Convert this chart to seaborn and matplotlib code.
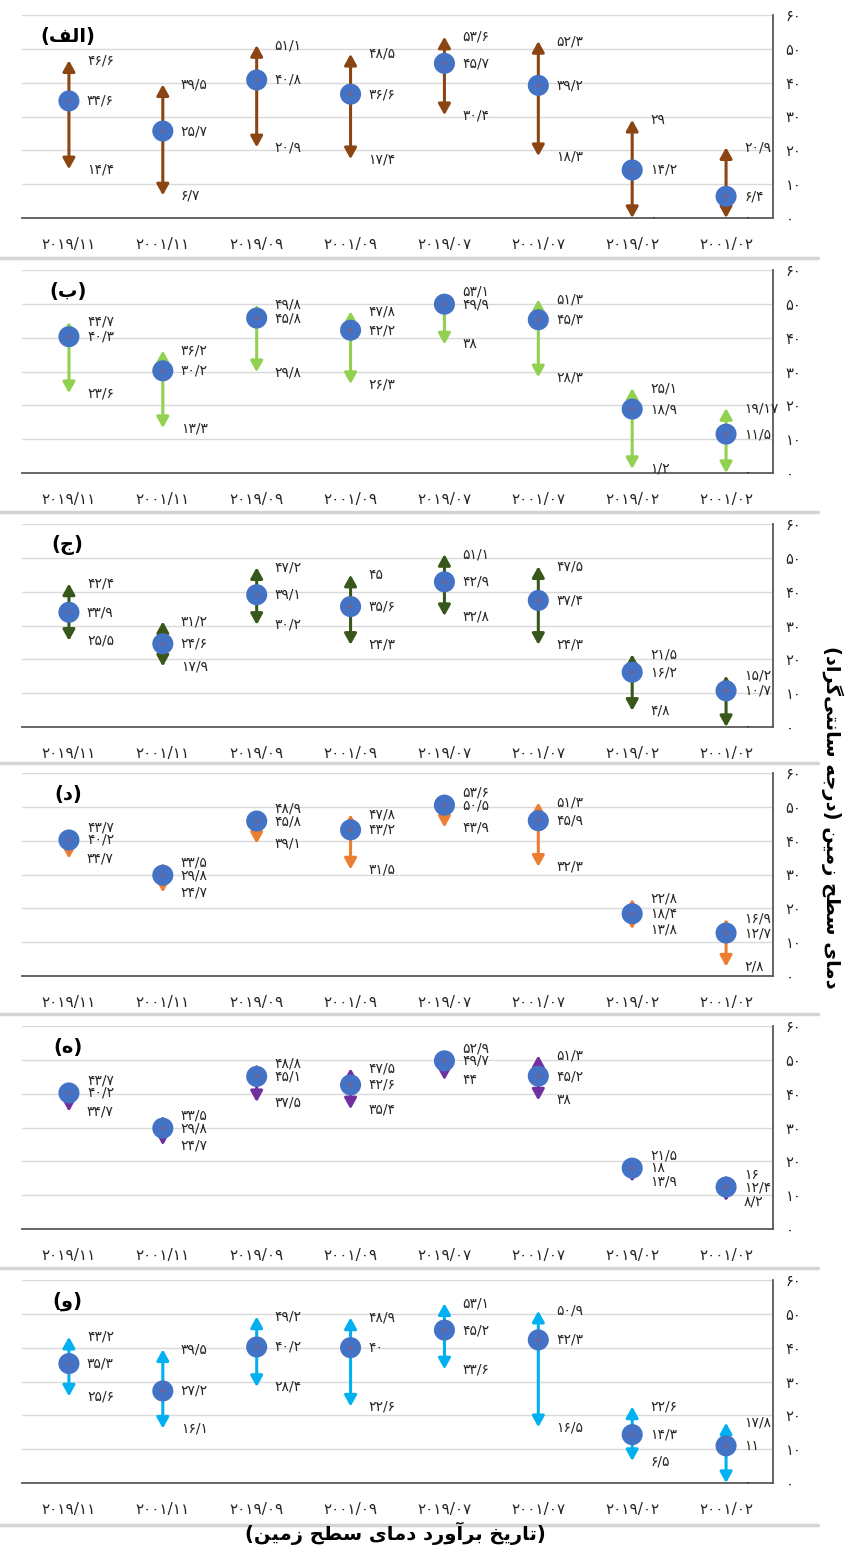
import numpy as np
import pandas as pd
import matplotlib
matplotlib.use("Agg")
import matplotlib.pyplot as plt
from matplotlib.lines import Line2D
import seaborn as sns

sns.set_style("white")
plt.rcParams['font.family'] = ['DejaVu Sans']

# تاریخ‌ها (از چپ به راست)
dates = ["2019/11", "2001/11", "2019/09", "2001/09", "2019/07", "2001/07", "2019/02", "2001/02"]
y_ticks = [0, 10, 20, 30, 40, 50, 60]

panel_names = ["الف", "ب", "ج", "د", "ه", "و"]
arrow_colors = ["#8B4513", "#92D050", "#38571A", "#ED7D31", "#7030A0", "#00B0F0"]

# (الف)
alef_max = [46.6, 39.5, 51.1, 48.5, 53.6, 52.3, 29, 20.9]
alef_mean = [34.6, 25.7, 40.8, 36.6, 45.7, 39.2, 14.2, 6.4]
alef_min = [14.4, 6.7, 20.9, 17.4, 30.4, 18.3, 0, 0]
# (ب)
be_max = [44.7, 36.2, 49.8, 47.8, 53.1, 51.3, 25.1, 19.17]
be_mean = [40.3, 30.2, 45.8, 42.2, 49.9, 45.3, 18.9, 11.5]
be_min = [23.6, 13.3, 29.8, 26.3, 38, 28.3, 1.2, 0]
# (ج)
jim_max = [42.4, 31.2, 47.2, 45, 51.1, 47.5, 21.5, 15.2]
jim_mean = [33.9, 24.6, 39.1, 35.6, 42.9, 37.4, 16.2, 10.7]
jim_min = [25.5, 17.9, 30.2, 24.3, 32.8, 24.3, 4.8, 0]
# (د)
dal_max = [43.7, 33.5, 48.9, 47.8, 53.6, 51.3, 22.8, 16.9]
dal_mean = [40.2, 29.8, 45.8, 43.2, 50.5, 45.9, 18.4, 12.7]
dal_min = [34.7, 24.7, 39.1, 31.5, 43.9, 32.3, 13.8, 2.8]
# (ه)
he_max = [43.7, 33.5, 48.8, 47.5, 52.9, 51.3, 21.5, 16]
he_mean = [40.2, 29.8, 45.1, 42.6, 49.7, 45.2, 18, 12.4]
he_min = [34.7, 24.7, 37.5, 35.4, 44, 38, 13.9, 8.2]
# (و)
vav_max = [43.2, 39.5, 49.2, 48.9, 53.1, 50.9, 22.6, 17.8]
vav_mean = [35.3, 27.2, 40.2, 40, 45.2, 42.3, 14.3, 11]
vav_min = [25.6, 16.1, 28.4, 22.6, 33.6, 16.5, 6.5, 0]

panels = [
    (alef_max, alef_mean, alef_min),
    (be_max, be_mean, be_min),
    (jim_max, jim_mean, jim_min),
    (dal_max, dal_mean, dal_min),
    (he_max, he_mean, he_min),
    (vav_max, vav_mean, vav_min),
]

# شکل‌های نمایشی حروف: جدا، پایانی، آغازی، میانی
FORMS = {
    'ا': ('\uFE8D', '\uFE8E', None, None),
    'آ': ('\uFE81', '\uFE82', None, None),
    'ب': ('\uFE8F', '\uFE90', '\uFE91', '\uFE92'),
    'ت': ('\uFE95', '\uFE96', '\uFE97', '\uFE98'),
    'ج': ('\uFE9D', '\uFE9E', '\uFE9F', '\uFEA0'),
    'ح': ('\uFEA1', '\uFEA2', '\uFEA3', '\uFEA4'),
    'خ': ('\uFEA5', '\uFEA6', '\uFEA7', '\uFEA8'),
    'د': ('\uFEA9', '\uFEAA', None, None),
    'ر': ('\uFEAD', '\uFEAE', None, None),
    'ز': ('\uFEAF', '\uFEB0', None, None),
    'س': ('\uFEB1', '\uFEB2', '\uFEB3', '\uFEB4'),
    'ط': ('\uFEC1', '\uFEC2', '\uFEC3', '\uFEC4'),
    'ف': ('\uFED1', '\uFED2', '\uFED3', '\uFED4'),
    'ل': ('\uFEDD', '\uFEDE', '\uFEDF', '\uFEE0'),
    'م': ('\uFEE1', '\uFEE2', '\uFEE3', '\uFEE4'),
    'ن': ('\uFEE5', '\uFEE6', '\uFEE7', '\uFEE8'),
    'ه': ('\uFEE9', '\uFEEA', '\uFEEB', '\uFEEC'),
    'و': ('\uFEED', '\uFEEE', None, None),
    'ی': ('\uFBFC', '\uFBFD', '\uFBFE', '\uFBFF'),
    'گ': ('\uFB92', '\uFB93', '\uFB94', '\uFB95'),
}


def rtl(s):
    """شکل‌دهی ساده و وارونه‌سازی متن فارسی برای matplotlib"""
    out = []
    for i, ch in enumerate(s):
        if ch not in FORMS:
            out.append(ch)
            continue
        iso, fin, ini, med = FORMS[ch]
        prev = s[i - 1] if i > 0 else ''
        nxt = s[i + 1] if i + 1 < len(s) else ''
        jp = prev in FORMS and FORMS[prev][2] is not None
        jn = ini is not None and nxt in FORMS
        out.append(med if (jp and jn) else fin if jp else ini if jn else iso)
    vis = ''.join(out).replace('\u200c', '')[::-1]
    return vis.translate(str.maketrans('()', ')('))


FA = str.maketrans('0123456789.', '۰۱۲۳۴۵۶۷۸۹/')


def fa(v):
    return f"{v:g}".translate(FA)


W, H = 849, 1555
fig = plt.figure(figsize=(W / 100, H / 100), dpi=100)
tops = [15, 270, 524, 773, 1026, 1280]
ax_h = 203
ax_l, ax_w = 22, 751
text_c = '#262626'
min_gap = 3.7  # کمترین فاصله‌ی برچسب‌ها (واحد محور)

for k, (mx, mean, mn) in enumerate(panels):
    ax = fig.add_axes([ax_l / W, 1 - (tops[k] + ax_h) / H, ax_w / W, ax_h / H])
    df = pd.DataFrame({'date': [d.translate(FA) for d in dates],
                       'max': mx, 'mean': mean, 'min': mn})
    col = arrow_colors[k]

    for i, r in df.iterrows():
        for target in (r['max'], r['min']):
            ax.annotate('', xy=(i, target), xytext=(i, r['mean']),
                        arrowprops=dict(arrowstyle='-|>,head_length=0.65,head_width=0.36',
                                        color=col, lw=2.2, shrinkA=0, shrinkB=0,
                                        mutation_scale=10),
                        zorder=3)

    sns.scatterplot(data=df, x='date', y='mean', s=230, color='#4472C4',
                    edgecolor='none', zorder=4, ax=ax, legend=False)
    sns.scatterplot(data=df, x='date', y='mean', s=5, color='#8a5a70',
                    edgecolor='none', zorder=5, ax=ax, legend=False)

    for i, r in df.iterrows():
        y_mean = r['mean']
        y_max = max(r['max'], y_mean + min_gap)
        y_min = min(r['min'], y_mean - min_gap)
        for v, yy in ((r['max'], y_max), (r['mean'], y_mean), (r['min'], y_min)):
            ax.annotate(fa(v), xy=(i, yy), xytext=(13, 0), textcoords='offset points',
                        ha='left', va='center', fontsize=10, color=text_c, zorder=6,
                        annotation_clip=False)

    ax.set_xlim(-0.5, 7.5)
    ax.set_ylim(0, 60)
    ax.set_yticks(y_ticks)
    ax.set_yticklabels([fa(t) for t in y_ticks], fontsize=10.5, color=text_c)
    ax.yaxis.tick_right()
    ax.tick_params(axis='y', length=0, pad=9)
    ax.tick_params(axis='x', length=0, pad=14, labelsize=11, labelcolor=text_c)
    ax.set_xlabel('')
    ax.set_ylabel('')
    ax.grid(axis='y', color='#d9d9d9', lw=1)
    ax.grid(axis='x', visible=False)
    ax.set_axisbelow(True)
    for side in ('top', 'left'):
        ax.spines[side].set_visible(False)
    for side in ('right', 'bottom'):
        ax.spines[side].set_color('#595959')
        ax.spines[side].set_linewidth(1.3)

    ax.text(0.061, 0.895, rtl('(' + panel_names[k] + ')'), transform=ax.transAxes,
            ha='center', va='center', fontsize=14, fontweight='bold', color='black')

# خطوط جداکننده بین قاب‌ها
for yp in [258, 512, 763, 1014, 1268, 1525]:
    fig.add_artist(Line2D([0, 818 / W], [1 - yp / H, 1 - yp / H],
                          color='#d4d4d4', lw=2.5, transform=fig.transFigure))

fig.text(395 / W, 1 - 1533 / H, rtl('(تاریخ برآورد دمای سطح زمین)'),
         ha='center', va='center', fontsize=14, fontweight='bold', color='black')
fig.text(832 / W, 1 - 817 / H, rtl('دمای سطح زمین (درجه سانتی‌گراد)'),
         rotation=270, ha='center', va='center', fontsize=14, fontweight='bold', color='black')

fig.savefig('out.png', dpi=100)
